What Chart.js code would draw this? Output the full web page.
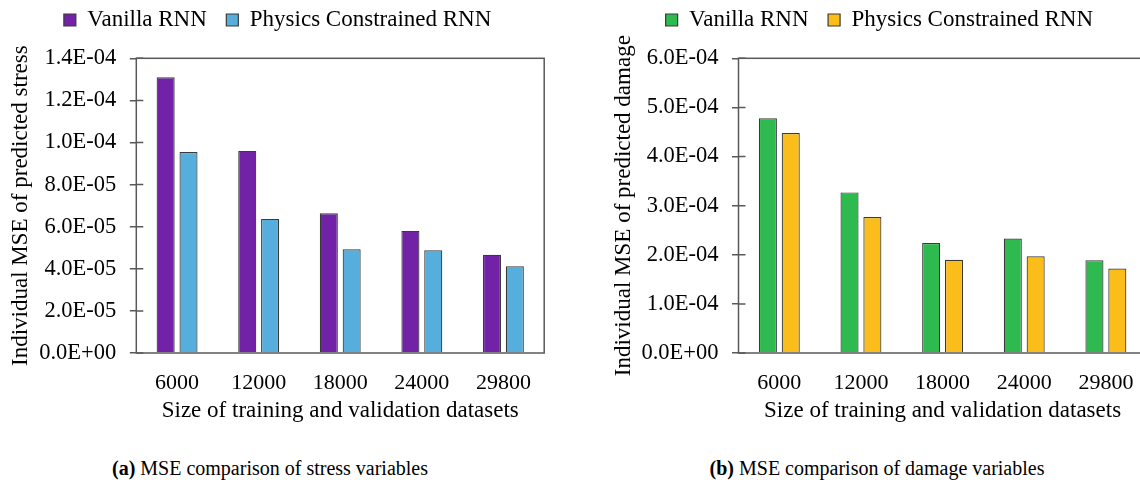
<!DOCTYPE html>
<html>
<head>
<meta charset="utf-8">
<script src="https://cdn.jsdelivr.net/npm/chart.js@4.4.1/dist/chart.umd.min.js"></script>
<style>
  html, body { margin: 0; padding: 0; background: #fff; width: 1140px; height: 480px; overflow: hidden; position: relative; }
  canvas { position: absolute; top: 0; }
  #stressChart { left: 0; }
  #damageChart { left: 612px; }
  .caption { position: absolute; top: 456px; width: 500px; text-align: center; white-space: nowrap;
             font: 20px 'Liberation Serif', 'Times New Roman', serif; line-height: 24px; color: #000; }
</style>
</head>
<body>
<canvas id="stressChart" width="560" height="430"></canvas>
<canvas id="damageChart" width="560" height="430"></canvas>
<div class="caption" style="left:20px"><b>(a)</b> MSE comparison of stress variables</div>
<div class="caption" style="left:627px"><b>(b)</b> MSE comparison of damage variables</div>
<script>
// Size of the training + validation sets
const datasetSizes = ['6000', '12000', '18000', '24000', '29800'];
const seriesNames = ['Vanilla RNN', 'Physics Constrained RNN'];

// Individual MSE of predicted stress
const stressVanilla = [1.31e-4, 9.6e-5, 6.64e-5, 5.8e-5, 4.67e-5];
const stressPhysics = [9.55e-5, 6.37e-5, 4.93e-5, 4.88e-5, 4.12e-5];

// Individual MSE of predicted damage
const damageVanilla = [4.78e-4, 3.27e-4, 2.24e-4, 2.33e-4, 1.89e-4];
const damagePhysics = [4.48e-4, 2.77e-4, 1.90e-4, 1.97e-4, 1.72e-4];

// Value axis ranges: [min, max, step]
const stressAxis = [0, 1.4e-4, 2e-5];
const damageAxis = [0, 6e-4, 1e-4];

const SERIF = "'Liberation Serif', 'Times New Roman', serif";
Chart.defaults.font.family = SERIF;
Chart.defaults.color = '#000';

// 1.4e-4 -> "1.4E-04"
function sci(v) {
  const [m, e] = Number(v).toExponential(1).split('e');
  const n = parseInt(e, 10);
  return m + 'E' + (n < 0 ? '-' : '+') + String(Math.abs(n)).padStart(2, '0');
}

// Extra room between the legend row and the plot
const legendGap = {
  id: 'legendGap',
  beforeLayout(chart) {
    const lg = chart.legend;
    if (lg && !lg._gapAdded) {
      const fit = lg.fit;
      lg.fit = function () { fit.call(this); this.height += 16.8; };
      lg._gapAdded = true;
    }
  }
};

// Box around the plot area, with the value-axis tick marks crossing into it
const plotFrame = {
  id: 'plotFrame',
  afterDatasetsDraw(chart) {
    const { ctx, chartArea: a } = chart;
    const y = chart.scales.y;
    ctx.save();
    ctx.strokeStyle = '#595959';
    ctx.lineWidth = 1.5;
    ctx.beginPath();
    y.ticks.forEach((t, i) => {
      const py = y.getPixelForTick(i);
      ctx.moveTo(a.left, py);
      ctx.lineTo(a.left + 7, py);
    });
    ctx.stroke();
    ctx.strokeRect(a.left, a.top, a.right - a.left, a.bottom - a.top);
    ctx.restore();
  }
};

function barChart(id, cfg) {
  const series = (label, data, color) => ({
    label, data,
    backgroundColor: color,
    borderColor: '#3a3a3a',
    borderWidth: 1.2,
    categoryPercentage: 0.56,
    barPercentage: 0.79
  });
  return new Chart(document.getElementById(id), {
    type: 'bar',
    data: {
      labels: datasetSizes,
      datasets: [
        series(seriesNames[0], cfg.first, cfg.colors[0]),
        series(seriesNames[1], cfg.second, cfg.colors[1])
      ]
    },
    options: {
      responsive: false,
      animation: false,
      layout: { padding: { left: cfg.padLeft, right: cfg.padRight, top: -11, bottom: 0 } },
      plugins: {
        legend: {
          labels: { font: { size: 23 }, color: '#000', boxWidth: 12, boxHeight: 12, padding: 19.5 }
        },
        tooltip: { enabled: false }
      },
      scales: {
        x: {
          grid: { display: false },
          border: { display: false },
          ticks: { font: { size: 22 }, color: '#000', padding: 9 },
          title: {
            display: true, text: 'Size of training and validation datasets',
            font: { size: 23, lineHeight: 1 }, color: '#000',
            padding: { top: 0, bottom: 7.5 }
          },
          afterFit(s) { s.height = 77; }
        },
        y: {
          min: cfg.axis[0], max: cfg.axis[1],
          ticks: { stepSize: cfg.axis[2], callback: sci, font: { size: 22.5 }, color: '#000', padding: 13.5 },
          grid: { drawOnChartArea: false, drawTicks: true, tickLength: 6.5, color: '#595959', lineWidth: 1.5 },
          border: { display: false },
          title: {
            display: true, text: cfg.yTitle,
            font: { size: 23, lineHeight: 1 }, color: '#000',
            padding: { top: cfg.titlePad, bottom: 0 }
          },
          afterFit(s) { s.width = cfg.axisWidth; }
        }
      }
    },
    plugins: [legendGap, plotFrame]
  });
}

barChart('stressChart', {
  first: stressVanilla, second: stressPhysics,
  colors: ['#7222A6', '#55AEDB'],
  axis: stressAxis,
  yTitle: 'Individual MSE of predicted stress',
  padLeft: 11, padRight: 15.8, axisWidth: 125.3, titlePad: -2
});

barChart('damageChart', {
  first: damageVanilla, second: damagePhysics,
  colors: ['#2FBA4F', '#FBBD1A'],
  axis: damageAxis,
  yTitle: 'Individual MSE of predicted damage',
  padLeft: 0, padRight: 25.3, axisWidth: 126.5, titlePad: 0
});
</script>
</body>
</html>
